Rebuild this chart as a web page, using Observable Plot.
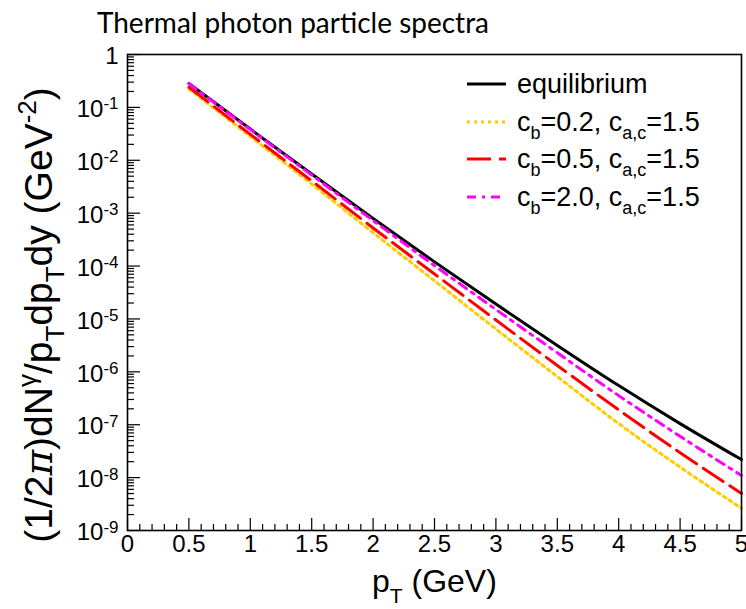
<!DOCTYPE html>
<html>
<head>
<meta charset="utf-8">
<script src="https://cdn.jsdelivr.net/npm/d3@7"></script>
<script src="https://cdn.jsdelivr.net/npm/@observablehq/plot@0.6"></script>
<style>
  html, body { margin: 0; padding: 0; background: #fff; }
  #chart { position: relative; width: 746px; height: 609px; }
</style>
</head>
<body>
<div id="chart"></div>
<script>
// ---- data ----
const pT = [0.5, 1.0, 1.5, 2.0, 2.5, 3.0, 3.5, 4.0, 4.5, 5.0];
const equilibrium = [0.282, 0.0389, 5.50e-3, 7.94e-4, 1.20e-4, 1.91e-5, 3.16e-6, 5.50e-7, 1.05e-7, 2.19e-8];
const cb02 = [0.224, 0.0282, 3.55e-3, 4.27e-4, 5.25e-5, 6.46e-6, 8.13e-7, 1.05e-7, 1.58e-8, 2.63e-9];
const cb05 = [0.240, 0.0309, 4.07e-3, 5.25e-4, 7.08e-5, 9.55e-6, 1.32e-6, 1.91e-7, 2.95e-8, 5.01e-9];
const cb20 = [0.282, 0.0380, 5.25e-3, 7.24e-4, 1.02e-4, 1.51e-5, 2.29e-6, 3.55e-7, 6.03e-8, 1.10e-8];

const xTicks = [0, 0.5, 1, 1.5, 2, 2.5, 3, 3.5, 4, 4.5, 5];
const xTickLabels = ["0", "0.5", "1", "1.5", "2", "2.5", "3", "3.5", "4", "4.5", "5"];
const yTicks = [1, 1e-1, 1e-2, 1e-3, 1e-4, 1e-5, 1e-6, 1e-7, 1e-8, 1e-9];
const yTickLabels = ["1", "10^-1", "10^-2", "10^-3", "10^-4", "10^-5", "10^-6", "10^-7", "10^-8", "10^-9"];

const seriesNames = ["equilibrium", "c_b=0.2, c_{a,c}=1.5", "c_b=0.5, c_{a,c}=1.5", "c_b=2.0, c_{a,c}=1.5"];
const seriesColors = ["#000000", "#ffcc00", "#ff0000", "#ff00ff"];
const seriesDash = [null, "3,4", "24,8", "9,6,3,6"];
const seriesValues = [equilibrium, cb02, cb05, cb20];

// minor tick positions (axis decoration)
const xMinor = d3.range(0, 51).map(i => i / 10).filter(v => Math.abs(v * 2 - Math.round(v * 2)) > 1e-9);
const yMinor = [];
for (let e = -9; e < 0; e++) for (let m = 2; m <= 9; m++) yMinor.push(m * Math.pow(10, e));

const rows = [];
seriesValues.forEach((vals, s) => vals.forEach((v, i) => rows.push({series: seriesNames[s], pT: pT[i], y: v})));

const W = 746, H = 609, ML = 127, MR = 5, MT = 54, MB = 79;
const FW = W - ML - MR, FH = H - MT - MB;
const font = "'Liberation Sans', Arial, Helvetica, sans-serif";

const lineMarks = seriesNames.map((name, s) =>
  Plot.line(rows.filter(r => r.series === name), {
    x: "pT", y: "y", stroke: seriesColors[s], strokeWidth: 3,
    strokeDasharray: seriesDash[s], curve: "monotone-x"
  })
);

const plot = Plot.plot({
  width: W, height: H,
  marginLeft: ML, marginRight: MR, marginTop: MT, marginBottom: MB,
  style: {fontFamily: font, fontSize: "24px", color: "#000", background: "#fff"},
  x: {domain: [0, 5], label: null, axis: null},
  y: {type: "log", domain: [1e-9, 1], label: null, axis: null},
  marks: [
    Plot.tickX(xTicks, {x: d => d, insetTop: FH - 12, stroke: "#000", strokeWidth: 1.2}),
    Plot.tickX(xMinor, {x: d => d, insetTop: FH - 6, stroke: "#000", strokeWidth: 1.2}),
    Plot.tickY(yTicks, {y: d => d, insetRight: FW - 13, stroke: "#000", strokeWidth: 1.2}),
    Plot.tickY(yMinor, {y: d => d, insetRight: FW - 7, stroke: "#000", strokeWidth: 1.2}),
    Plot.text(xTicks, {x: d => d, text: (d, i) => xTickLabels[i], frameAnchor: "bottom",
      dy: 21, fontSize: 24, fill: "#000"}),
    Plot.text(yTicks, {y: d => d, text: (d, i) => yTickLabels[i], frameAnchor: "left",
      dx: -9, dy: 2, textAnchor: "end", fontSize: 24, fill: "#000"}),
    ...lineMarks,
    Plot.frame({stroke: "#000", strokeWidth: 1.6})
  ]
});
document.getElementById("chart").appendChild(plot);

const svg = d3.select(plot);

// turn "10^-k" tick labels into superscripts
svg.selectAll("text").each(function() {
  const t = d3.select(this);
  const s = t.text();
  if (/^10\^/.test(s)) {
    const [base, exp] = s.split("^");
    t.text(null);
    t.append("tspan").text(base);
    t.append("tspan").attr("dy", "-0.45em").attr("font-size", "17px").text(exp);
  }
});

// title
svg.append("text")
  .attr("x", 293).attr("y", 33)
  .attr("text-anchor", "middle")
  .attr("font-family", "Lato, 'Open Sans', sans-serif")
  .attr("font-size", "28px")
  .attr("fill", "#000")
  .text("Thermal photon particle spectra");

// x axis title
const xt = svg.append("text")
  .attr("x", 372).attr("y", 592).attr("text-anchor", "start")
  .attr("font-family", font).attr("font-size", "32px").attr("fill", "#000");
xt.append("tspan").text("p");
xt.append("tspan").attr("font-size", "21px").attr("dy", "11").text("T");
xt.append("tspan").attr("dy", "-11").text(" (GeV)");

// y axis title
const yt = svg.append("text")
  .attr("transform", "translate(52,315) rotate(-90)")
  .attr("text-anchor", "middle")
  .attr("font-family", font).attr("font-size", "39px").attr("fill", "#000");
yt.append("tspan").text("(1/2");
yt.append("tspan").attr("font-family", "'DejaVu Serif', serif").attr("font-style", "italic").text("π");
yt.append("tspan").text(")dN");
yt.append("tspan").attr("font-size", "26px").attr("dy", "-16").text("γ");
yt.append("tspan").attr("dy", "16").text("/p");
yt.append("tspan").attr("font-size", "26px").attr("dy", "12").text("T");
yt.append("tspan").attr("dy", "-12").text("dp");
yt.append("tspan").attr("font-size", "26px").attr("dy", "12").text("T");
yt.append("tspan").attr("dy", "-12").text("dy (GeV");
yt.append("tspan").attr("font-size", "26px").attr("dy", "-16").text("-2");
yt.append("tspan").attr("dy", "16").text(")");

// legend
const lg = svg.append("g");
const legY = [84, 122, 159, 197];
seriesNames.forEach((name, s) => {
  const y = legY[s];
  lg.append("line").attr("x1", 467).attr("x2", 506).attr("y1", y).attr("y2", y)
    .attr("stroke", seriesColors[s]).attr("stroke-width", 3)
    .attr("stroke-dasharray", seriesDash[s]);
  const t = lg.append("text").attr("x", 517).attr("y", y + 9).attr("text-anchor", "start")
    .attr("font-family", font).attr("font-size", "27px").attr("fill", "#000");
  if (s === 0) { t.text(name); return; }
  const m = name.match(/c_b=([\d.]+), c_\{a,c\}=([\d.]+)/);
  t.append("tspan").text("c");
  t.append("tspan").attr("font-size", "18px").attr("dy", "8").text("b");
  t.append("tspan").attr("dy", "-8").text("=" + m[1] + ", c");
  t.append("tspan").attr("font-size", "18px").attr("dy", "8").text("a,c");
  t.append("tspan").attr("dy", "-8").text("=" + m[2]);
});
</script>
</body>
</html>
